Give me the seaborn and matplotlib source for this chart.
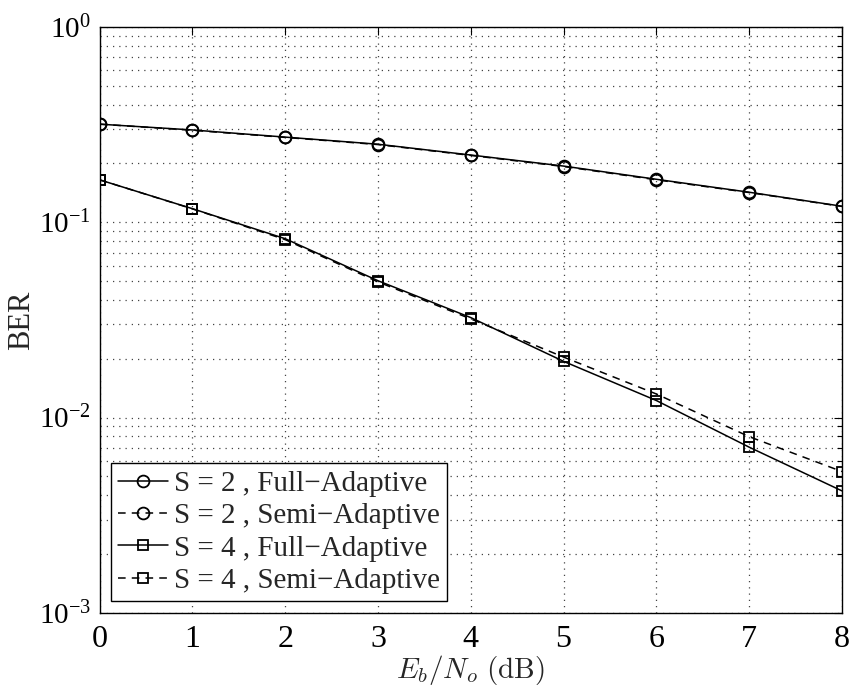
import numpy as np
import pandas as pd
import matplotlib
matplotlib.use('Agg')
import matplotlib.pyplot as plt
import seaborn as sns
from matplotlib.ticker import LogLocator, FixedLocator

# Eb/No values (dB)
ebno = [0, 1, 2, 3, 4, 5, 6, 7, 8]

# BER values
ber_s2_full = [0.318, 0.297, 0.273, 0.251, 0.221, 0.194, 0.166, 0.1425, 0.1208]
ber_s2_semi = [0.318, 0.296, 0.272, 0.250, 0.220, 0.193, 0.165, 0.1420, 0.1205]
ber_s4_full = [0.165, 0.1174, 0.0824, 0.0502, 0.0325, 0.0194, 0.01222, 0.00705, 0.00421]
ber_s4_semi = [0.165, 0.1172, 0.0815, 0.0495, 0.0320, 0.0204, 0.0132, 0.00798, 0.00529]

labels = ['S = 2 , Full\u2212Adaptive', 'S = 2 , Semi\u2212Adaptive',
          'S = 4 , Full\u2212Adaptive', 'S = 4 , Semi\u2212Adaptive']

sns.set_style('white')
plt.rcParams['font.family'] = ['Liberation Serif', 'DejaVu Serif']
plt.rcParams['mathtext.fontset'] = 'stix'

fig = plt.figure(figsize=(8.55, 6.87), dpi=100)
ax = fig.add_axes([0.1164, 0.108, 0.8684, 0.8527])

series = [
    (ber_s2_full, 'o', '-', 8.5),
    (ber_s2_semi, 'o', (0, (5, 4)), 8.5),
    (ber_s4_full, 's', '-', 7),
    (ber_s4_semi, 's', (0, (5, 4)), 7),
]
for (vals, mk, ls, ms), lab in zip(series, labels):
    df = pd.DataFrame({'EbNo': ebno, 'BER': vals})
    sns.lineplot(data=df, x='EbNo', y='BER', ax=ax, color='black', linewidth=1.1,
                 linestyle=ls, marker=mk, markersize=ms, markerfacecolor='none',
                 markeredgecolor='black', markeredgewidth=1.3, label=lab)

ax.set_yscale('log')
ax.set_xlim(0, 8)
ax.set_ylim(1e-3, 1)
ax.xaxis.set_major_locator(FixedLocator(ebno))
ax.yaxis.set_major_locator(LogLocator(base=10, numticks=10))
ax.yaxis.set_minor_locator(LogLocator(base=10, subs=np.arange(2, 10), numticks=20))

gstyle = dict(linestyle=(0, (1, 4)), color='#444444', linewidth=0.9)
ax.grid(True, which='major', **gstyle)
ax.grid(True, which='minor', axis='y', **gstyle)
ax.tick_params(which='both', direction='in', top=True, right=True, colors='black')
ax.tick_params(axis='x', pad=9, labelsize=23)
ax.tick_params(axis='y', pad=6, labelsize=21)
ax.tick_params(which='major', length=6, width=0.8)
ax.tick_params(which='minor', length=3.5, width=0.8)
for sp in ax.spines.values():
    sp.set_color('black')
    sp.set_linewidth(1.0)

ax.set_xlabel(r'$E_b/N_o\ \mathrm{(dB)}$', fontsize=21, math_fontfamily='cm', labelpad=-1)
ax.set_ylabel('BER', fontsize=22, labelpad=2)

leg = ax.legend(loc='lower left', bbox_to_anchor=(0.0, 0.0), fontsize=21, frameon=True,
                fancybox=False, framealpha=1, edgecolor='black', handlelength=1.7,
                handletextpad=0.2, borderpad=0.25, labelspacing=0.2, borderaxespad=0.4)
leg.get_frame().set_linewidth(1.0)

fig.savefig('out.png', dpi=100)
